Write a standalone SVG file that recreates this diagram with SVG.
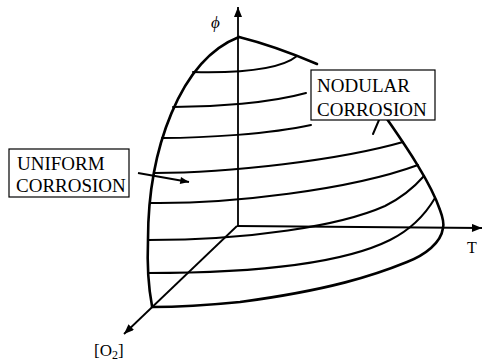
<svg xmlns="http://www.w3.org/2000/svg" width="483" height="361" viewBox="0 0 483 361">
<style>
.bd{fill:none;stroke:#000;stroke-width:2.6;stroke-linecap:round;stroke-linejoin:round}
.lt{fill:none;stroke:#000;stroke-width:2;stroke-linecap:round}
.ax{fill:none;stroke:#000;stroke-width:1.8}
.box{fill:#fff;stroke:#000;stroke-width:1.2}
.lb{font-family:"Liberation Serif","DejaVu Serif",serif;font-size:19px;fill:#000}
.sm{font-family:"Liberation Serif","DejaVu Serif",serif;fill:#000}
</style>
<defs>
<marker id="ah" viewBox="0 0 10 8" refX="10" refY="4" markerWidth="11" markerHeight="8" markerUnits="userSpaceOnUse" orient="auto">
<path d="M0,0 L10,4 L0,8 Z" fill="#000"/>
</marker>
<marker id="ahs" viewBox="0 0 10 8" refX="10" refY="4" markerWidth="11" markerHeight="7" markerUnits="userSpaceOnUse" orient="auto">
<path d="M0,0 L10,4 L0,8 Z" fill="#000"/>
</marker>
</defs>
<g id="surface">
<path class="bd" d="M239,37 C180,60 148,150 148,240 C147,265 149,290 152,306"/>
<path class="bd" d="M239,37 Q275,46 317,64"/>
<path class="bd" d="M387,119 C400,138 430,180 440,210 C443,218 444,224 443,228 C441,243 425,255 407,262 C375,275 330,290 240,302 C200,306 170,307 152,307"/>
<path class="lt" d="M193,72 C235,73 280,70 297,56"/>
<path class="lt" d="M173,107 C215,107 270,103 306,93"/>
<path class="lt" d="M162,138 C205,138 270,134 311,125"/>
<path class="lt" d="M154,173 C230,173 340,160 403,142"/>
<path class="lt" d="M150,203 C230,204 350,190 418,165"/>
<path class="lt" d="M148,240 C250,240 340,226 385,206 C405,196 417,184 424,176"/>
<path class="lt" d="M148,273 C250,273 340,265 390,240 C410,230 425,215 435,198"/>
<path class="lt" d="M379,120 L373,134"/>
</g>
<g id="connectors">
<line class="ax" x1="238" y1="227" x2="238" y2="7" marker-end="url(#ah)"/>
<line class="ax" x1="237" y1="226" x2="482" y2="228" marker-end="url(#ah)"/>
<line class="ax" x1="237" y1="226" x2="124" y2="334" marker-end="url(#ah)"/>
<line class="ax" x1="138" y1="173" x2="189" y2="182" stroke-width="1.6" marker-end="url(#ahs)"/>
</g>
<g id="nodular">
<rect class="box" x="311" y="70" width="124" height="50"/>
<text class="lb" x="317" y="92">NODULAR</text>
<text class="lb" x="317" y="116">CORROSION</text>
</g>
<g id="uniform">
<rect class="box" x="9" y="149" width="120" height="48"/>
<text class="lb" x="17" y="170">UNIFORM</text>
<text class="lb" x="16" y="192">CORROSION</text>
</g>
<g id="phi"><text class="sm" x="211" y="28" font-size="17" font-style="italic">ϕ</text></g>
<g id="T"><text class="sm" x="467" y="253" font-size="16">T</text></g>
<g id="O2"><text class="sm" x="94" y="356" font-size="17">[O<tspan font-size="12" dy="3">2</tspan><tspan dy="-3">]</tspan></text></g>
</svg>
